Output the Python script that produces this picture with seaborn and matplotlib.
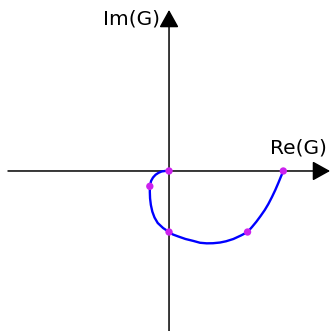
import matplotlib
matplotlib.use("Agg")
import matplotlib.pyplot as plt
import seaborn as sns
import pandas as pd

# Nyquist locus of G(jw), traced from w = 0 (on the positive real axis) to w -> inf (origin)
re_curve = [1.000, 0.978, 0.958, 0.930, 0.901, 0.869, 0.838, 0.801, 0.764, 0.726,
            0.687, 0.630, 0.563, 0.499, 0.446, 0.385, 0.330, 0.271, 0.213, 0.144,
            0.081, 0.035, 0.000, -0.052, -0.099, -0.127, -0.146, -0.159, -0.166, -0.168,
            -0.168, -0.157, -0.140, -0.118, -0.092, -0.064, -0.035, 0.000]
im_curve = [0.000, -0.052, -0.101, -0.166, -0.227, -0.289, -0.341, -0.394, -0.444, -0.490,
            -0.534, -0.564, -0.595, -0.615, -0.626, -0.632, -0.633, -0.628, -0.612, -0.595,
            -0.573, -0.556, -0.534, -0.499, -0.455, -0.407, -0.356, -0.297, -0.239, -0.184,
            -0.134, -0.087, -0.057, -0.033, -0.016, -0.004, 0.000, 0.000]

# highlighted frequencies along the locus
re_marks = [1.000, 0.687, 0.000, -0.168, 0.000]
im_marks = [0.000, -0.534, -0.534, -0.134, 0.000]

axis_labels = ["Re(G)", "Im(G)"]

sns.set_style("white")
plt.rcParams["font.family"] = ["DejaVu Sans"]

curve = pd.DataFrame({"re": re_curve, "im": im_curve})
marks = pd.DataFrame({"re": re_marks, "im": im_marks})

fig = plt.figure(figsize=(3.36, 3.31), dpi=100)
ax = fig.add_axes([0, 0, 1, 1])
ax.set_xlim(-1.479, 1.461)
ax.set_ylim(-1.400, 1.496)

# coordinate axes with arrow heads
arrow = dict(arrowstyle="-|>,head_length=0.9,head_width=0.5", mutation_scale=12,
             color="black", lw=1.1, shrinkA=0, shrinkB=0)
ax.annotate("", xy=(1.409, 0), xytext=(-1.409, 0), arrowprops=arrow)
ax.annotate("", xy=(0, 1.409), xytext=(0, -1.45), arrowprops=arrow)

sns.lineplot(data=curve, x="re", y="im", sort=False, estimator=None,
             color="#0000ff", lw=1.7, ax=ax, zorder=3)
for l in ax.lines:
    l.set_solid_joinstyle("round")
    l.set_solid_capstyle("round")
sns.scatterplot(data=marks, x="re", y="im", color="#cc22ee", s=28,
                edgecolor="none", ax=ax, zorder=4)
ax.axis("off")

ax.text(0.884, 0.201, axis_labels[0], fontsize=14.5, color="black",
        ha="left", va="center")
ax.text(-0.079, 1.33, axis_labels[1], fontsize=14.5, color="black",
        ha="right", va="center")

fig.savefig("out.png", dpi=100)
